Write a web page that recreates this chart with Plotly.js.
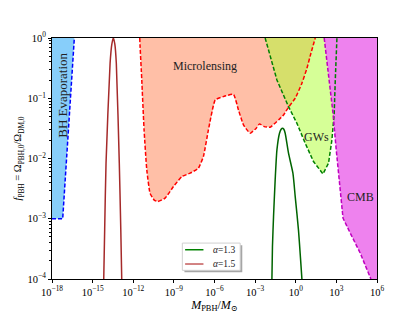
<!DOCTYPE html>
<html><head><meta charset="utf-8">
<script src="https://cdn.plot.ly/plotly-3.0.1.min.js"></script>
<style>html,body{margin:0;padding:0;background:#fff}#chart{width:418px;height:314px}</style>
</head><body><div id="chart"></div>
<script>
// All values are log10 of M_PBH/M_sun and log10 of f_PBH
const bhLogM = [-18, -17.21, -16.35];
const bhLogF = [-3, -3, 0];

const mlLogM = [-11.52, -11.50, -11.37, -11.20, -11.00, -10.76, -10.45, -10.19, -9.65, -9.03, -8.41, -7.80, -7.19, -6.82, -6.45, -5.95, -5.34, -4.60, -4.23, -3.86, -3.37, -2.92, -2.68, -2.33, -1.89, -1.27, -0.90, -0.535, -0.04, 0.455, 0.825, 1.12, 1.44];
const mlLogF = [0, -0.116, -0.697, -1.526, -2.189, -2.576, -2.69, -2.715, -2.658, -2.466, -2.300, -2.244, -2.161, -1.968, -1.526, -1.028, -0.973, -0.934, -1.194, -1.443, -1.580, -1.497, -1.426, -1.471, -1.481, -1.360, -1.277, -1.149, -1.000, -0.751, -0.502, -0.254, 0];

const gwLogM = [-2.26, -1.39, -0.535, 0.085, 0.70, 1.31, 2.01, 2.42, 2.67, 2.84, 2.92, 2.99, 3.04];
const gwLogF = [0, -0.697, -1.139, -1.415, -1.746, -2.051, -2.255, -2.078, -1.692, -1.249, -0.697, -0.2, 0];

const cmbLogM = [2.10, 2.42, 2.75, 2.99, 3.23, 3.49, 4.03, 4.76, 5.55];
const cmbLogF = [0, -0.585, -1.249, -1.857, -2.41, -2.99, -3.24, -3.57, -4.0];

const a13LogM = [-1.76, -1.72, -1.64, -1.52, -1.39, -1.20, -1.08, -0.98, -0.88, -0.78, -0.535, -0.21, -0.04, 0.20, 0.455];
const a13LogF = [-4, -3.461, -2.963, -2.355, -1.857, -1.58, -1.515, -1.497, -1.515, -1.58, -1.912, -2.244, -2.632, -3.184, -4];

const a15LogM = [-14.18, -14.11, -14.01, -13.71, -13.58, -13.47, -13.36, -13.25, -13.03, -12.92, -12.85];
const a15LogF = [-4, -3.18, -2.08, -0.42, -0.10, 0, -0.10, -0.42, -2.08, -3.18, -4];

const seriesNames = ['\u03b1=1.3', '\u03b1=1.5'];
const seriesColors = ['#008000', '#c45a5a'];
const xTickExp = [-18, -15, -12, -9, -6, -3, 0, 3, 6];
const yTickExp = [0, -1, -2, -3, -4];

const p10 = a => a.map(v => Math.pow(10, v));
const expLabel = e => '10<sup>' + (e < 0 ? '\u2212' + (-e) : e) + '</sup>';

const dashed = '4px,2px';
const traces = [];
// fills
traces.push({x: p10(bhLogM.concat([-18])), y: p10(bhLogF.concat([0])), mode: 'none', fill: 'toself', fillcolor: '#87cefa', showlegend: false});
traces.push({x: p10(mlLogM), y: p10(mlLogF), mode: 'none', fill: 'toself', fillcolor: 'rgba(255,127,80,0.5)', showlegend: false});
traces.push({x: p10(gwLogM), y: p10(gwLogF), mode: 'none', fill: 'toself', fillcolor: 'rgba(173,255,47,0.5)', showlegend: false});
traces.push({x: p10(cmbLogM.concat([6, 6])), y: p10(cmbLogF.concat([-4, 0])), mode: 'none', fill: 'toself', fillcolor: '#ee82ee', showlegend: false});
// boundaries
traces.push({x: p10(bhLogM), y: p10(bhLogF), mode: 'lines', line: {color: '#0000ff', width: 1.5, dash: dashed}, showlegend: false});
traces.push({x: p10(mlLogM), y: p10(mlLogF), mode: 'lines', line: {color: '#ff0000', width: 1.5, dash: dashed, shape: 'spline', smoothing: 0.4}, showlegend: false});
traces.push({x: p10(gwLogM), y: p10(gwLogF), mode: 'lines', line: {color: '#008000', width: 1.5, dash: dashed}, showlegend: false});
traces.push({x: p10(cmbLogM), y: p10(cmbLogF), mode: 'lines', line: {color: '#bf00bf', width: 1.5, dash: dashed}, showlegend: false});
// curves
traces.push({x: p10(a13LogM), y: p10(a13LogF), mode: 'lines', name: seriesNames[0], line: {color: '#006400', width: 1.5, shape: 'spline', smoothing: 0.6}, showlegend: false});
traces.push({x: p10(a15LogM), y: p10(a15LogF), mode: 'lines', name: seriesNames[1], line: {color: '#a52a2a', width: 1.5, shape: 'spline', smoothing: 0.6}, showlegend: false});

const yMinor = [];
for (let e = -4; e < 0; e++) for (let d = 2; d <= 9; d++) yMinor.push(d * Math.pow(10, e));

// compact legend box (matplotlib style, with shadow)
const lg = {x0: 0.401, x1: 0.579, y0: 0.036, y1: 0.149, sh: 0.0065, shy: 0.0085,
  lineX0: 0.4096, lineX1: 0.466, textX: 0.488, rows: [0.1214, 0.0622]};
const shapes = [
  {type: 'rect', xref: 'paper', yref: 'paper', x0: lg.x0 + lg.sh, x1: lg.x1 + lg.sh, y0: lg.y0 - lg.shy, y1: lg.y1 - lg.shy,
    fillcolor: 'rgba(0,0,0,0.35)', line: {width: 0}, layer: 'above'},
  {type: 'rect', xref: 'paper', yref: 'paper', x0: lg.x0, x1: lg.x1, y0: lg.y0, y1: lg.y1,
    fillcolor: '#fff', line: {color: '#d0d0d0', width: 1}, layer: 'above'}
];
const legendAnn = [];
seriesNames.forEach((n, i) => {
  shapes.push({type: 'line', xref: 'paper', yref: 'paper', x0: lg.lineX0, x1: lg.lineX1, y0: lg.rows[i], y1: lg.rows[i],
    line: {color: seriesColors[i], width: 1.5}, layer: 'above'});
  legendAnn.push({xref: 'paper', yref: 'paper', x: lg.textX, y: lg.rows[i], xanchor: 'left', yanchor: 'middle',
    text: '<i>\u03b1</i>' + n.slice(1), showarrow: false, font: {size: 9.5, color: '#222'}});
});

const txtFont = {family: 'Liberation Serif, DejaVu Serif, serif', size: 12, color: '#222'};
const layout = {
  width: 418, height: 314,
  margin: {l: 52, r: 41, t: 38, b: 35},
  paper_bgcolor: '#fff', plot_bgcolor: '#fff',
  font: {family: 'Liberation Serif, DejaVu Serif, serif', size: 10.5, color: '#000'},
  showlegend: false,
  xaxis: {type: 'log', range: [-18, 6], tickmode: 'array', tickvals: p10(xTickExp), ticktext: xTickExp.map(expLabel),
    showline: true, mirror: true, linecolor: '#000', linewidth: 1, ticks: 'outside', ticklen: 3, tickcolor: '#000',
    showgrid: false, zeroline: false, automargin: false,
    title: {text: '<i>M</i><sub>PBH</sub>/<i>M</i><sub>\u2299</sub>', font: {size: 12}, standoff: 1}},
  yaxis: {type: 'log', range: [-4, 0], tickmode: 'array', tickvals: p10(yTickExp), ticktext: yTickExp.map(expLabel),
    showline: true, mirror: true, linecolor: '#000', linewidth: 1, ticks: 'outside', ticklen: 3, tickcolor: '#000',
    showgrid: false, zeroline: false, automargin: false,
    minor: {tickmode: 'array', tickvals: yMinor, ticks: 'outside', ticklen: 2, tickcolor: '#000', showgrid: false},
    title: {text: '<i>f</i><sub>PBH</sub> = \u03a9<sub>PBH,0</sub>/\u03a9<sub>DM,0</sub>', font: {size: 10.5}, standoff: 3}},
  shapes: shapes,
  annotations: [
    {x: -6.69, y: -0.464, xref: 'x', yref: 'y', text: 'Microlensing', showarrow: false, font: txtFont},
    {x: -17.2, y: -0.945, xref: 'x', yref: 'y', text: 'BH Evaporation', textangle: -90, showarrow: false, font: Object.assign({}, txtFont, {size: 13})},
    {x: 1.56, y: -1.647, xref: 'x', yref: 'y', text: 'GWs', showarrow: false, font: txtFont},
    {x: 4.76, y: -2.632, xref: 'x', yref: 'y', text: 'CMB', showarrow: false, font: txtFont}
  ].concat(legendAnn)
};
Plotly.newPlot('chart', traces, layout, {staticPlot: true, displayModeBar: false});
</script></body></html>
